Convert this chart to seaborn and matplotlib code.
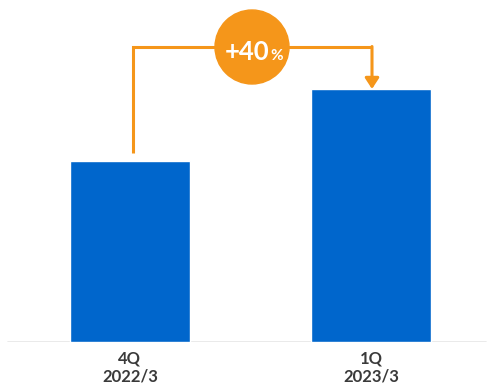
import matplotlib
matplotlib.use("Agg")
import matplotlib.pyplot as plt
import seaborn as sns
from matplotlib.patches import Circle, FancyArrowPatch

# Data
quarters = ["4Q\n2022/3", "1Q\n2023/3"]
values = [100, 140]
growth_label = "+40"

sns.set_theme(style="white")
plt.rcParams["font.family"] = ["Lato", "DejaVu Sans"]

BLUE = "#0066CC"
ORANGE = "#F5961A"

W, H = 487, 386
fig = plt.figure(figsize=(W / 100, H / 100), dpi=100)
ax = fig.add_axes([0, 44 / H, 1, 342 / H])

sns.barplot(x=quarters, y=values, color=BLUE, width=0.498, saturation=1, ax=ax)

ax.set_xlim(-0.539, 1.481)
ax.set_ylim(0, 140 * 342 / 253)
ax.set_yticks([])
ax.set_ylabel("")
ax.set_xlabel("")
for s in ["top", "right", "left", "bottom"]:
    ax.spines[s].set_visible(False)
ax.axhline(0, xmin=8 / W, xmax=486 / W, color="#E6E6E6", lw=1.2, zorder=0)
ax.tick_params(axis="x", length=0, pad=6)
for lbl in ax.get_xticklabels():
    lbl.set_fontsize(12)
    lbl.set_fontweight("bold")
    lbl.set_color("#3a3a3a")
    lbl.set_linespacing(1.15)

# Connector from first bar to second bar
top_y = 163.5
x0 = 0.012
x1 = 1.004
gap = 4.5
ax.plot([x0, x0, x1], [values[0] + gap, top_y, top_y], color=ORANGE, lw=2.2,
        solid_joinstyle="miter", solid_capstyle="butt", zorder=3)
arrow = FancyArrowPatch((x1, top_y), (x1, values[1]), arrowstyle="-|>,head_length=4,head_width=2.6",
                        color=ORANGE, lw=2.2, shrinkA=0, shrinkB=0, mutation_scale=1.6, zorder=3)
ax.add_patch(arrow)

# Growth badge
cx_px, cy_px, r_px = 252, H - 47, 37
badge = Circle((cx_px, cy_px), r_px, transform=None, color=ORANGE, zorder=4)
fig.patches.append(badge)
base_y = (H - 60) / H
fig.text(269 / W, base_y, growth_label, color="white", fontsize=18.5,
         fontweight="bold", ha="right", va="baseline", zorder=5)
fig.text(270 / W, base_y, "%", color="white", fontsize=11,
         fontweight="bold", ha="left", va="baseline", zorder=5)

fig.savefig("out.png", dpi=100)
